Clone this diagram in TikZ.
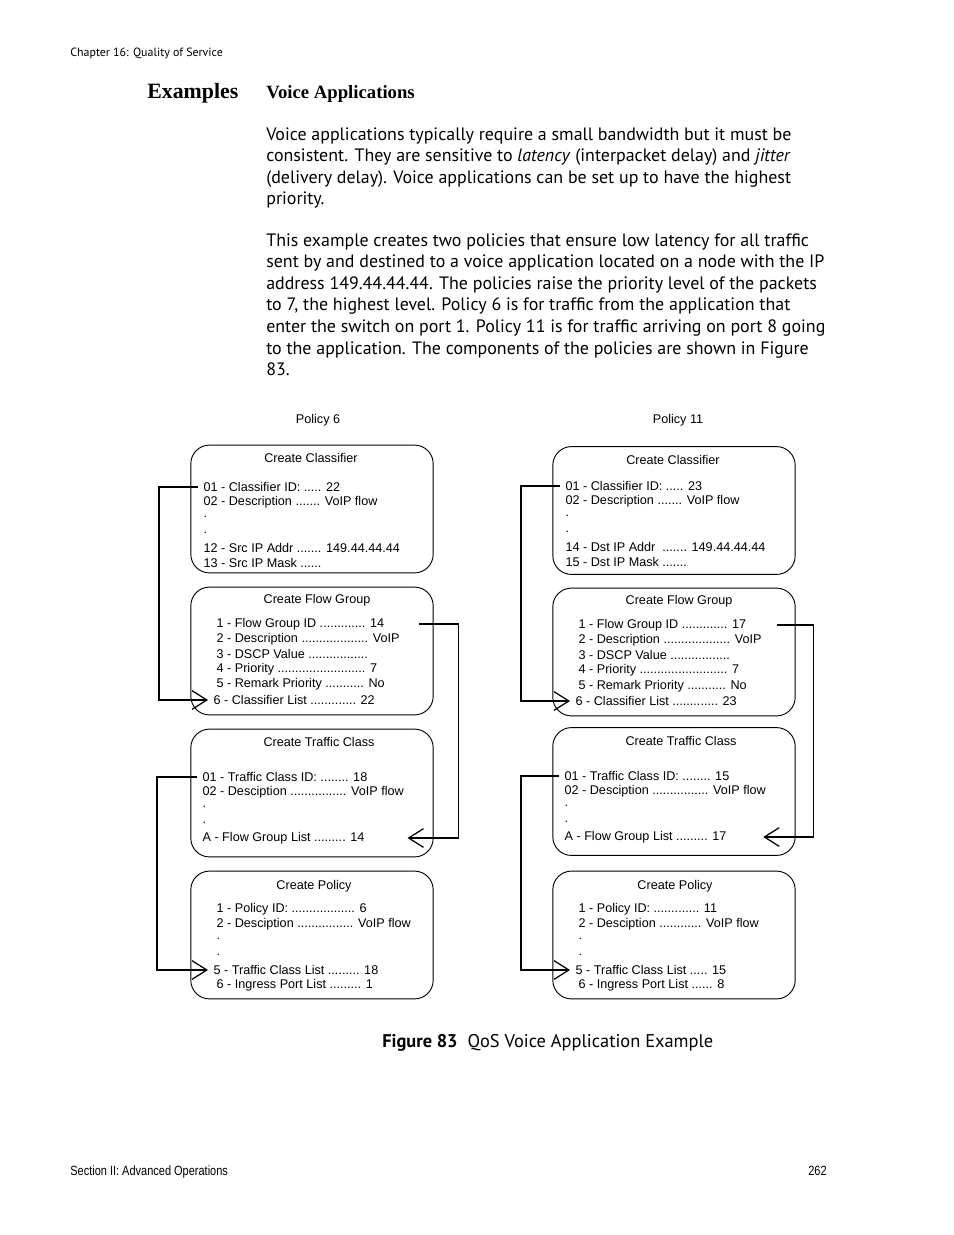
\documentclass[tikz,border=0pt]{standalone}
\usepackage{fontspec}
\setmainfont{Liberation Sans}
\newfontfamily\bodyfont{PT Sans}
\newfontfamily\headfont{Liberation Serif}
\newfontfamily\footfont[FakeStretch=0.82]{Liberation Sans}
\usetikzlibrary{arrows.meta}

\tikzset{
  qbox/.style={draw, line width=0.6pt, rounded corners=12pt, minimum width=155.5pt, minimum height=82pt},
  boxtitle/.style={inner sep=0pt, font=\fontsize{8.1}{9}\selectfont},
  rowtext/.style={anchor=west, inner xsep=3.4pt, inner ysep=0pt, font=\fontsize{8.1}{9}\selectfont},
  bodyline/.style={anchor=base west, inner sep=0pt, font=\bodyfont\fontsize{11.5}{13}\selectfont},
  link/.style={line width=0.8pt, -{Straight Barb[length=9.5pt,width=12pt,line width=0.8pt]}}
}

\begin{document}
\begin{tikzpicture}[x=0.6415pt,y=-0.6415pt]
\useasboundingbox (0,0) rectangle (954,1235);

\node[anchor=base west, inner sep=0pt, font=\bodyfont\fontsize{7.65}{9}\selectfont] (chap) at (70,56) {Chapter 16: Quality of Service};
\node[anchor=base west, inner sep=0pt, font=\headfont\bfseries\fontsize{14}{16}\selectfont] (exa) at (147,98.5) {Examples};
\node[anchor=base west, inner sep=0pt, font=\headfont\bfseries\fontsize{12}{13}\selectfont] (voice) at (266,98.5) {Voice Applications};

\node[bodyline] (p1) at (266,140) {Voice applications typically require a small bandwidth but it must be};
\node[bodyline] (p2) at (266,161.6) {consistent. They are sensitive to \textit{latency} (interpacket delay) and \textit{jitter}};
\node[bodyline] (p3) at (266,183.2) {(delivery delay). Voice applications can be set up to have the highest};
\node[bodyline] (p4) at (266,204.8) {priority.};
\node[bodyline] (p5) at (266,246) {This example creates two policies that ensure low latency for all traffic};
\node[bodyline] (p6) at (266,267.6) {sent by and destined to a voice application located on a node with the IP};
\node[bodyline] (p7) at (266,289.2) {address 149.44.44.44. The policies raise the priority level of the packets};
\node[bodyline] (p8) at (266,310.8) {to 7, the highest level. Policy 6 is for traffic from the application that};
\node[bodyline] (p9) at (266,332.4) {enter the switch on port 1. Policy 11 is for traffic arriving on port 8 going};
\node[bodyline] (p10) at (266,354) {to the application. The components of the policies are shown in Figure};
\node[bodyline] (p11) at (266,375.6) {83.};

\node[boxtitle] (pol6) at (318,420) {Policy 6};
\node[boxtitle] (pol11) at (678,420) {Policy 11};

\node[qbox] (acls) at (312,509) {};
\node[qbox] (aflow) at (312,651) {};
\node[qbox] (atc) at (312,793) {};
\node[qbox] (apol) at (312,935) {};
\node[qbox] (bcls) at (674,510.5) {};
\node[qbox] (bflow) at (674,652) {};
\node[qbox] (btc) at (674,791.5) {};
\node[qbox] (bpol) at (674,935) {};

\node[boxtitle] (acls-t) at (311,458) {Create Classifier};
\node[rowtext] (acls1) at (198,487) {01 - Classifier ID: ..... 22};
\node[rowtext] (acls2) at (198,502) {02 - Description ....... VoIP flow};
\node[rowtext] (acls3) at (198,517) {.};
\node[rowtext] (acls4) at (198,533) {.};
\node[rowtext] (acls5) at (198,548) {12 - Src IP Addr ....... 149.44.44.44};
\node[rowtext] (acls6) at (198,563) {13 - Src IP Mask ......};

\node[boxtitle] (aflow-t) at (317,600) {Create Flow Group};
\node[rowtext] (aflow1) at (211,624) {1 - Flow Group ID ............. 14};
\node[rowtext] (aflow2) at (211,639) {2 - Description ................... VoIP};
\node[rowtext] (aflow3) at (211,654) {3 - DSCP Value .................};
\node[rowtext] (aflow4) at (211,669) {4 - Priority ......................... 7};
\node[rowtext] (aflow5) at (211,684) {5 - Remark Priority ........... No};
\node[rowtext] (aflow6) at (208,700) {6 - Classifier List ............. 22};

\node[boxtitle] (atc-t) at (319,742) {Create Traffic Class};
\node[rowtext] (atc1) at (197,777) {01 - Traffic Class ID: ........ 18};
\node[rowtext] (atc2) at (197,792) {02 - Desciption ................ VoIP flow};
\node[rowtext] (atc3) at (197,807) {.};
\node[rowtext] (atc4) at (197,823) {.};
\node[rowtext] (atc5) at (197,838) {A - Flow Group List ......... 14};

\node[boxtitle] (apol-t) at (314,886) {Create Policy};
\node[rowtext] (apol1) at (211,909) {1 - Policy ID: .................. 6};
\node[rowtext] (apol2) at (211,924) {2 - Desciption ................ VoIP flow};
\node[rowtext] (apol3) at (211,939) {.};
\node[rowtext] (apol4) at (211,955) {.};
\node[rowtext] (apol5) at (208,970) {5 - Traffic Class List ......... 18};
\node[rowtext] (apol6) at (211,985) {6 - Ingress Port List ......... 1};

\node[boxtitle] (bcls-t) at (673,460) {Create Classifier};
\node[rowtext] (bcls1) at (560,486) {01 - Classifier ID: ..... 23};
\node[rowtext] (bcls2) at (560,501) {02 - Description ....... VoIP flow};
\node[rowtext] (bcls3) at (560,516) {.};
\node[rowtext] (bcls4) at (560,532) {.};
\node[rowtext] (bcls5) at (560,547) {14 - Dst IP Addr \ ....... 149.44.44.44};
\node[rowtext] (bcls6) at (560,562) {15 - Dst IP Mask .......};

\node[boxtitle] (bflow-t) at (679,601) {Create Flow Group};
\node[rowtext] (bflow1) at (573,625) {1 - Flow Group ID ............. 17};
\node[rowtext] (bflow2) at (573,640) {2 - Description ................... VoIP};
\node[rowtext] (bflow3) at (573,655) {3 - DSCP Value .................};
\node[rowtext] (bflow4) at (573,670) {4 - Priority ......................... 7};
\node[rowtext] (bflow5) at (573,686) {5 - Remark Priority ........... No};
\node[rowtext] (bflow6) at (570,701) {6 - Classifier List ............. 23};

\node[boxtitle] (btc-t) at (681,741) {Create Traffic Class};
\node[rowtext] (btc1) at (559,776) {01 - Traffic Class ID: ........ 15};
\node[rowtext] (btc2) at (559,791) {02 - Desciption ................ VoIP flow};
\node[rowtext] (btc3) at (559,806) {.};
\node[rowtext] (btc4) at (559,822) {.};
\node[rowtext] (btc5) at (559,837) {A - Flow Group List ......... 17};

\node[boxtitle] (bpol-t) at (675,886) {Create Policy};
\node[rowtext] (bpol1) at (573,909) {1 - Policy ID: ............. 11};
\node[rowtext] (bpol2) at (573,924) {2 - Desciption ............ VoIP flow};
\node[rowtext] (bpol3) at (573,939) {.};
\node[rowtext] (bpol4) at (573,955) {.};
\node[rowtext] (bpol5) at (570,970) {5 - Traffic Class List ..... 15};
\node[rowtext] (bpol6) at (573,985) {6 - Ingress Port List ...... 8};

\draw[link] (acls1.west) -- ++(-39,0) |- (aflow6.west);
\draw[link, shorten <=19pt, shorten >=24pt] (aflow1.east) -- ++(69,0) |- (atc5.east);
\draw[link] (atc1.west) -- ++(-40,0) |- (apol5.west);
\draw[link] (bcls1.west) -- ++(-39,0) |- (bflow6.west);
\draw[link, shorten <=16pt, shorten >=20pt] (bflow1.east) -- ++(62,0) |- (btc5.east);
\draw[link] (btc1.west) -- ++(-38,0) |- (bpol5.west);

\node[anchor=base west, inner sep=0pt, font=\bodyfont\fontsize{11.8}{13}\selectfont] (cap) at (382,1047.5) {\textbf{Figure 83}\ \ QoS Voice Application Example};

\node[anchor=base west, inner sep=0pt, font=\footfont\fontsize{8.6}{9}\selectfont] (foot) at (70,1175.5) {Section II: Advanced Operations};
\node[anchor=base east, inner sep=0pt, font=\footfont\fontsize{8.6}{9}\selectfont] (page) at (827,1175.5) {262};
\end{tikzpicture}
\end{document}
